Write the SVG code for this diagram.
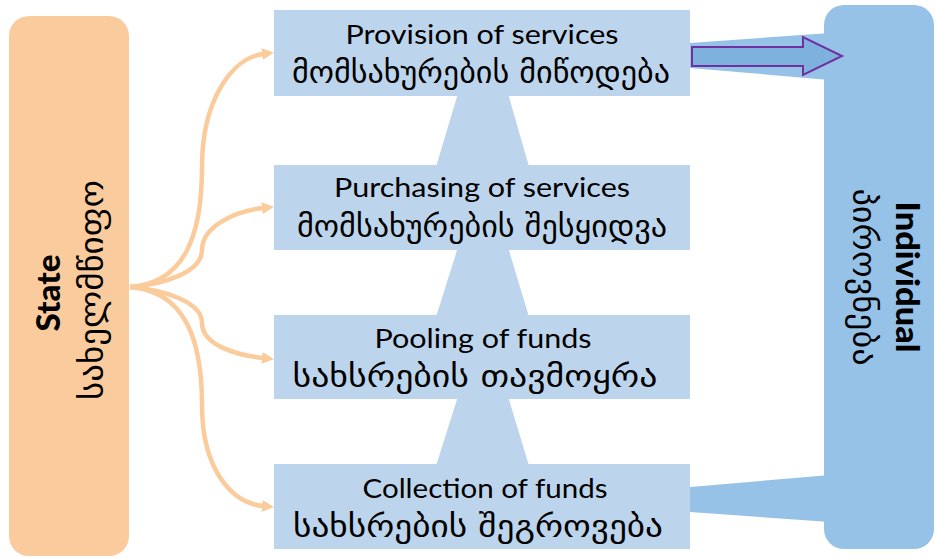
<svg xmlns="http://www.w3.org/2000/svg" width="935" height="558" viewBox="0 0 935 558">
<defs>
<style>
.en{font-family:Lato,"Liberation Sans",sans-serif;font-size:27.5px;fill:#000;text-anchor:middle}
.ka{font-family:"DejaVu Sans","Noto Sans",sans-serif;font-size:31px;fill:#000;text-anchor:middle}
.kr{font-family:"DejaVu Sans","Noto Sans",sans-serif;font-size:32px;fill:#000;text-anchor:middle}
.bold{font-family:Lato,"Liberation Sans",sans-serif;font-weight:900;font-size:32px;fill:#000;text-anchor:middle}
.box{fill:#BDD5EC}
.link{fill:#BDD5EC}
.conn{fill:none;stroke:#FBCB9B;stroke-width:4.5}
.ind{fill:#96C2E8}
</style>
<marker id="ah" markerUnits="userSpaceOnUse" markerWidth="12" markerHeight="12" refX="1" refY="6" orient="auto">
<path d="M0,0 L12,6 L0,12 z" fill="#FBCB9B"/>
</marker>
</defs>
<rect width="935" height="558" fill="#fff"/>

<g id="links">
<polygon class="link" points="459,90 507,90 530,170 435,170"/>
<polygon class="link" points="459,244 507,244 530,320 435,320"/>
<polygon class="link" points="459,393 507,393 530,469 435,469"/>
</g>

<g id="state">
<rect x="9" y="16" width="120" height="540" rx="20" fill="#FACB9C"/>
<text class="bold" transform="translate(60,293) rotate(-90)" textLength="77" lengthAdjust="spacingAndGlyphs">State</text>
<text class="kr" transform="translate(103,290) rotate(-90)" textLength="220" lengthAdjust="spacingAndGlyphs">სახელმწიფო</text>
</g>

<g id="individual">
<polygon class="ind" points="690,43 830,33 830,80 690,68"/>
<polygon class="ind" points="690,487 830,475 830,522 690,512"/>
<rect x="824" y="5" width="110" height="544" rx="20" class="ind"/>
<text class="bold" transform="translate(896,277) rotate(90)" textLength="151" lengthAdjust="spacingAndGlyphs">Individual</text>
<text class="kr" transform="translate(853,277) rotate(90)" textLength="177" lengthAdjust="spacingAndGlyphs">პიროვნება</text>
</g>

<g id="provision">
<rect class="box" x="274" y="10" width="416" height="86"/>
<text class="en" x="482" y="44" textLength="273" lengthAdjust="spacingAndGlyphs">Provision of services</text>
<text class="ka" x="481" y="83" textLength="378" lengthAdjust="spacingAndGlyphs">მომსახურების მიწოდება</text>
</g>

<g id="purchasing">
<rect class="box" x="274" y="165" width="416" height="85"/>
<text class="en" x="482" y="197" textLength="296" lengthAdjust="spacingAndGlyphs">Purchasing of services</text>
<text class="ka" x="482" y="237" textLength="370" lengthAdjust="spacingAndGlyphs">მომსახურების შესყიდვა</text>
</g>

<g id="pooling">
<rect class="box" x="274" y="315" width="416" height="84"/>
<text class="en" x="483" y="348" textLength="217" lengthAdjust="spacingAndGlyphs">Pooling of funds</text>
<text class="ka" x="475" y="387" textLength="365" lengthAdjust="spacingAndGlyphs">სახსრების თავმოყრა</text>
</g>

<g id="collection">
<rect class="box" x="274" y="464" width="416" height="85"/>
<text class="en" x="485" y="498" textLength="245" lengthAdjust="spacingAndGlyphs">Collection of funds</text>
<text class="ka" x="478" y="537" textLength="370" lengthAdjust="spacingAndGlyphs">სახსრების შეგროვება</text>
</g>

<g id="connectors">
<path class="conn" marker-end="url(#ah)" d="M130,287 C185,283 202,235 202,167 C202,100 232,58 263,54"/>
<path class="conn" marker-end="url(#ah)" d="M130,287 C165,284 202,272 202,250 C202,226 236,211 263,208"/>
<path class="conn" marker-end="url(#ah)" d="M130,287 C165,290 202,302 202,323 C202,345 236,355 263,358"/>
<path class="conn" marker-end="url(#ah)" d="M130,287 C185,291 202,340 202,405 C202,470 232,503 263,506"/>
<polygon points="692,47 803,47 803,37 842,56 803,75 803,66 692,66" fill="#7EB1DD" stroke="#7030A0" stroke-width="2"/>
</g>
</svg>
